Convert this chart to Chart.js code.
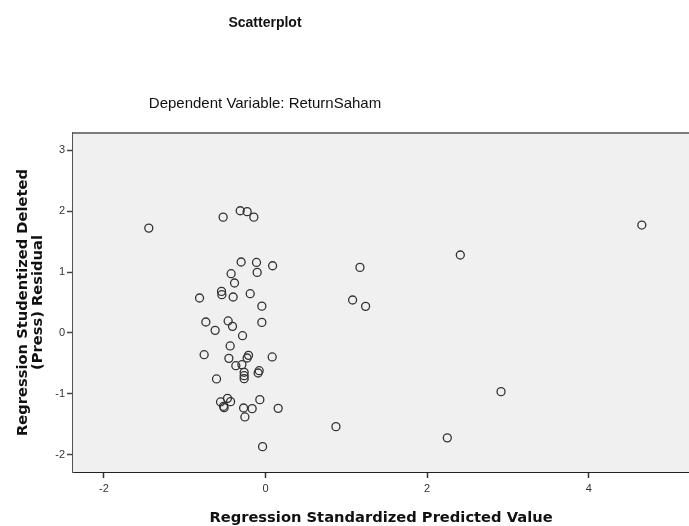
<!DOCTYPE html>
<html>
<head>
<meta charset="utf-8">
<script src="https://cdn.jsdelivr.net/npm/chart.js@4"></script>
<style>
  html, body { margin: 0; padding: 0; background: #fff; }
  canvas { display: block; }
</style>
</head>
<body>
<canvas id="scatterChart" width="689" height="526"></canvas>
<script>
// Regression Standardized Predicted Value (x) and Studentized Deleted Residual (y)
const predicted = [
  -1.445, -0.525, -0.314, -0.228, -0.145, -0.302, -0.112, 0.087, -0.104, -0.426,
  -0.384, -0.817, -0.545, -0.541, -0.401, -0.190, -0.046, -0.739, -0.463, -0.046,
  -0.409, -0.624, -0.285, -0.438, -0.760, -0.211, -0.228, 0.082, -0.454, -0.368,
  -0.293, -0.265, -0.265, -0.265, -0.079, -0.092, -0.607, -0.071, -0.471, -0.557,
  -0.433, -0.520, -0.513, -0.272, -0.166, 0.156, -0.256, -0.037, 4.656, 2.410,
  1.168, 1.077, 1.238, 2.914, 0.871, 2.249
];
const residual = [
  1.72, 1.90, 2.005, 1.99, 1.90, 1.164, 1.157, 1.103, 0.994, 0.972,
  0.82, 0.574, 0.682, 0.628, 0.59, 0.644, 0.44, 0.18, 0.197, 0.174,
  0.109, 0.043, -0.044, -0.213, -0.356, -0.367, -0.41, -0.393, -0.416, -0.536,
  -0.52, -0.645, -0.70, -0.749, -0.618, -0.656, -0.754, -1.093, -1.072, -1.131,
  -1.126, -1.203, -1.225, -1.23, -1.241, -1.236, -1.377, -1.864, 1.77, 1.279,
  1.076, 0.541, 0.437, -0.962, -1.536, -1.72
];
const xTickValues = [-2, 0, 2, 4];
const yTickValues = [-2, -1, 0, 1, 2, 3];

const chartTitle = 'Scatterplot';
const chartSubtitle = 'Dependent Variable: ReturnSaham';

const points = predicted.map((x, i) => ({ x: x, y: residual[i] }));

// grey plot background, top frame line and the two titles
const spssFrame = {
  id: 'spssFrame',
  beforeDatasetsDraw(chart) {
    const { ctx, chartArea } = chart;
    ctx.save();
    ctx.fillStyle = '#f0f0f0';
    ctx.fillRect(chartArea.left, chartArea.top, chartArea.right - chartArea.left, chartArea.bottom - chartArea.top);
    ctx.strokeStyle = '#7a7a7a';
    ctx.lineWidth = 2;
    ctx.beginPath();
    ctx.moveTo(chartArea.left, chartArea.top);
    ctx.lineTo(chartArea.right, chartArea.top);
    ctx.stroke();
    ctx.restore();
  },
  afterDraw(chart) {
    const ctx = chart.ctx;
    ctx.save();
    ctx.fillStyle = '#111';
    ctx.textAlign = 'center';
    ctx.textBaseline = 'middle';
    ctx.font = 'bold 14px "Liberation Sans", Arial, sans-serif';
    ctx.fillText(chartTitle, 265, 23);
    ctx.font = '15px "Liberation Sans", Arial, sans-serif';
    ctx.fillText(chartSubtitle, 265, 104);
    ctx.restore();
  }
};

const ctx = document.getElementById('scatterChart');
new Chart(ctx, {
  type: 'scatter',
  data: {
    datasets: [{
      data: points,
      pointRadius: 4,
      pointHoverRadius: 4,
      pointBorderWidth: 1.3,
      borderColor: '#333',
      backgroundColor: 'rgba(0,0,0,0)'
    }]
  },
  options: {
    responsive: false,
    devicePixelRatio: 1,
    animation: false,
    layout: { autoPadding: false, padding: { top: 133, right: 0, left: 0, bottom: 0 } },
    plugins: {
      legend: { display: false },
      tooltip: { enabled: false }
    },
    scales: {
      x: {
        type: 'linear',
        min: -2.383,
        max: 5.24,
        afterFit(scale) {
          scale.height = 54;
          scale.paddingLeft = 0;
          scale.paddingRight = 0;
        },
        afterBuildTicks(scale) { scale.ticks = xTickValues.map(v => ({ value: v })); },
        grid: { drawOnChartArea: false, drawTicks: true, tickLength: 6, tickColor: '#333', tickWidth: 1.5 },
        border: { display: true, color: '#222', width: 2 },
        ticks: {
          color: '#333',
          padding: 4,
          maxRotation: 0,
          font: { family: '"Liberation Sans", Arial, sans-serif', size: 11 }
        },
        title: {
          display: true,
          text: 'Regression Standardized Predicted Value',
          color: '#111',
          padding: { top: 4, bottom: 0 },
          font: { family: '"DejaVu Sans", Verdana, sans-serif', size: 14.7, weight: 'bold', lineHeight: 1 }
        }
      },
      y: {
        type: 'linear',
        min: -2.28,
        max: 3.28,
        afterFit(scale) { scale.width = 73; },
        afterBuildTicks(scale) { scale.ticks = yTickValues.map(v => ({ value: v })); },
        grid: { drawOnChartArea: false, drawTicks: true, tickLength: 6, tickColor: '#444', tickWidth: 1.5 },
        border: { display: true, color: '#555', width: 2 },
        ticks: {
          color: '#333',
          padding: 2,
          font: { family: '"Liberation Sans", Arial, sans-serif', size: 11 }
        },
        title: {
          display: true,
          text: ['Regression Studentized Deleted', '(Press) Residual'],
          color: '#111',
          padding: { top: 16, bottom: 0 },
          font: { family: '"DejaVu Sans", Verdana, sans-serif', size: 14.7, weight: 'bold', lineHeight: 1.02 }
        }
      }
    }
  },
  plugins: [spssFrame]
});
</script>
</body>
</html>
